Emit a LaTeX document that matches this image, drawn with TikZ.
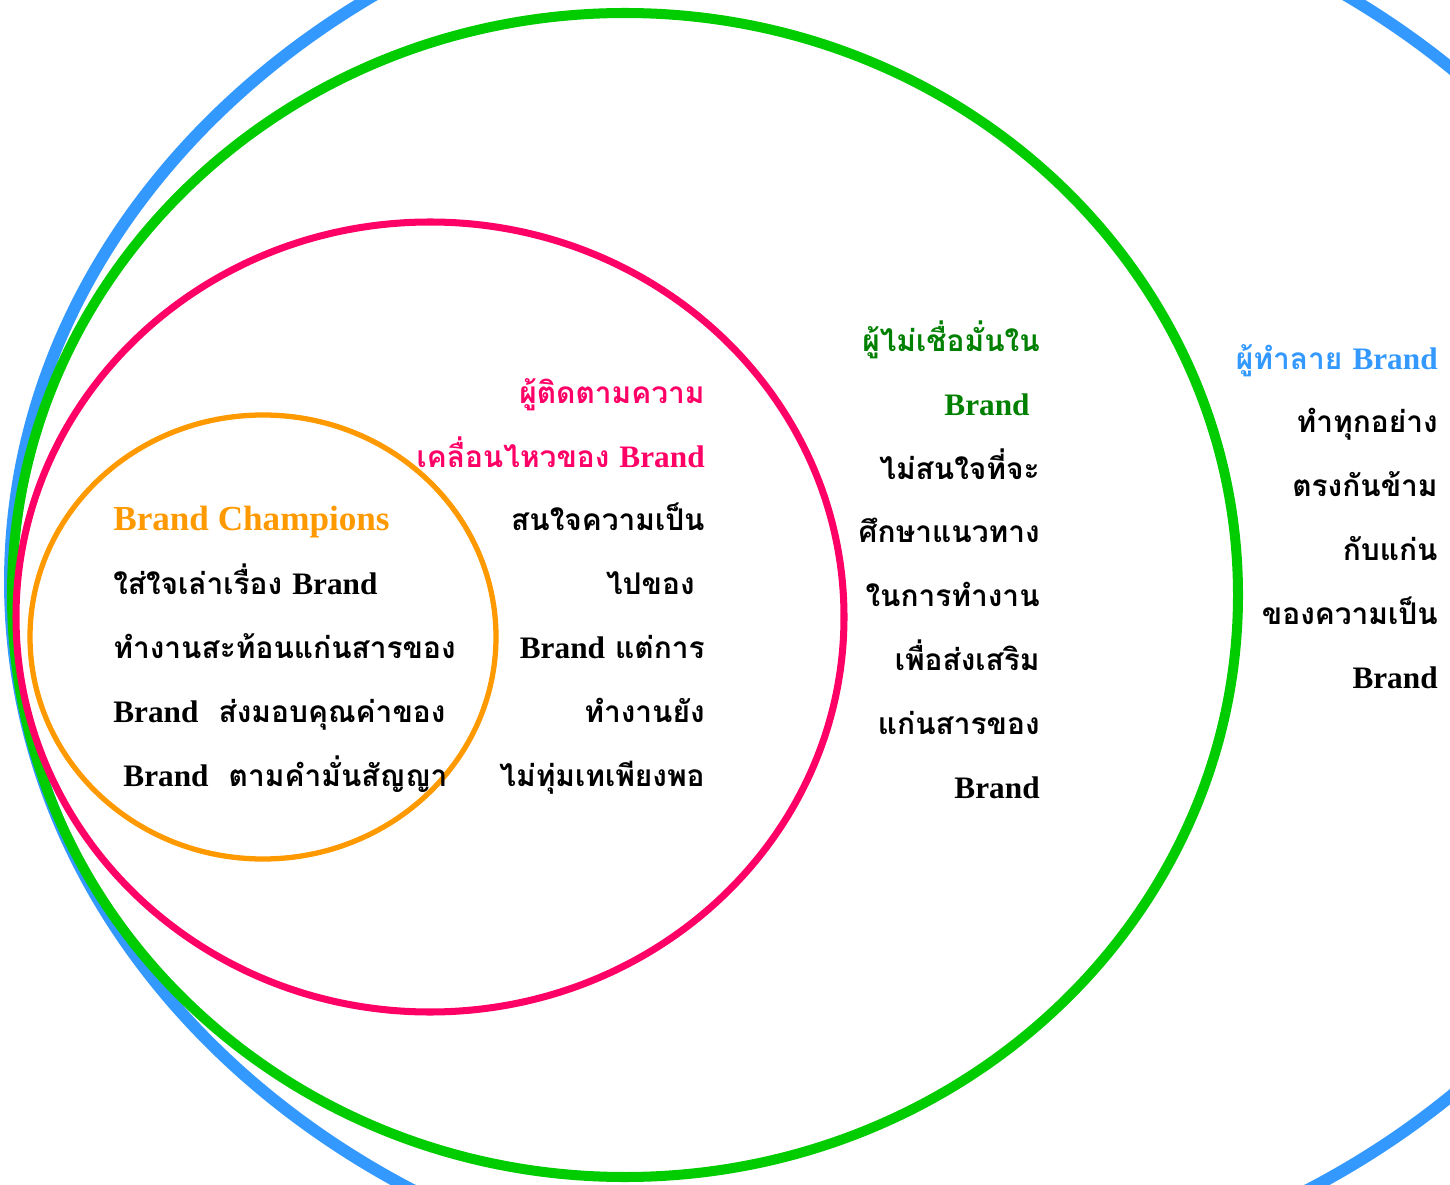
\documentclass[tikz,border=0pt]{standalone}
\usepackage{fontspec}
\setmainfont{Liberation Serif}
\newfontfamily\thai[Script=Thai,Scale=0.85]{Loma}
\usetikzlibrary{positioning}
\definecolor{ringB}{HTML}{3399FF}
\definecolor{ringG}{HTML}{00CC00}
\definecolor{ringP}{HTML}{FF0066}
\definecolor{ringO}{HTML}{FF9900}
\definecolor{headG}{HTML}{008000}
\newcommand{\brand}{{\rmfamily\fontsize{17.8}{36.3}\selectfont Brand}}
\newcommand{\tsp}{\hbox{\ }}

\begin{document}
\begin{tikzpicture}[
  x=0.02cm, y=-0.02cm,
  every node/.style={inner sep=0pt},
  txt/.style={font=\fontsize{20}{36.3}\selectfont\bfseries\thai},
  ring/.style={line width=#1}
]
\useasboundingbox (0,0) rectangle (1450,1185);
% rings, outside in
\draw[ring=6.8pt, ringB] (860,582) ellipse [x radius=850, y radius=715];
\draw[ring=5.7pt, ringG] (625,595) ellipse [x radius=613, y radius=582];
\draw[ring=4pt, ringP]   (430,617) ellipse [x radius=414, y radius=395];
\draw[ring=3pt, ringO]   (263,637) ellipse [x radius=233, y radius=222];

% text blocks, placed by the baseline of their last line
\node[txt, align=left, anchor=base west] (champ) at (113,786)
  {\textcolor{ringO}{\rmfamily Brand Champions}\\
   ใส่ใจเล่าเรื่อง \brand\\
   ทำงานสะท้อนแก่นสารของ\\
   \brand\ \ ส่งมอบคุณค่าของ\\
   \tsp\brand\ \ ตามคำมั่นสัญญา};
\node[txt, align=right, anchor=base east] (follow) at (705,786)
  {\textcolor{ringP}{ผู้ติดตามความ}\\
   \textcolor{ringP}{เคลื่อนไหวของ \brand}\\
   สนใจความเป็น\\
   ไปของ\tsp\\
   \brand\ แต่การ\\
   ทำงานยัง\\
   ไม่ทุ่มเทเพียงพอ};
\node[txt, align=right, anchor=base east] (doubt) at (1040,798)
  {\textcolor{headG}{ผู้ไม่เชื่อมั่นใน}\\
   \textcolor{headG}{\brand}\tsp\\
   ไม่สนใจที่จะ\\
   ศึกษาแนวทาง\\
   ในการทำงาน\\
   เพื่อส่งเสริม\\
   แก่นสารของ\\
   \brand};
\node[txt, align=right, anchor=base east] (wreck) at (1438,688)
  {\textcolor{ringB}{ผู้ทำลาย \brand}\\
   ทำทุกอย่าง\\
   ตรงกันข้าม\\
   กับแก่น\\
   ของความเป็น\\
   \brand};
\end{tikzpicture}
\end{document}
